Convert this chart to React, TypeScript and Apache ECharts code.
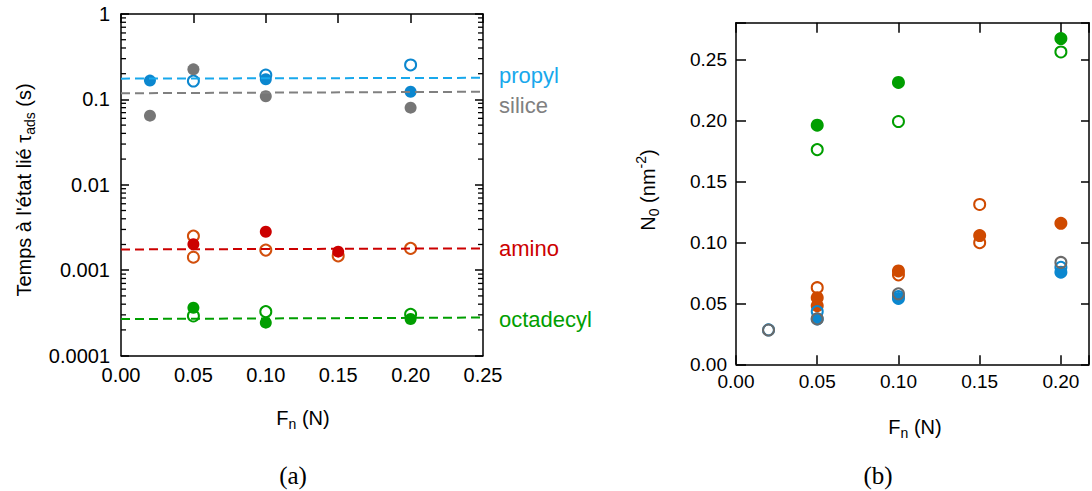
import React, { useEffect, useRef } from "react";
import * as echarts from "echarts";

// ---------- Panel (a): residence time (log scale) ----------
const propylFilled: [number, number][] = [[0.02, 0.166], [0.10, 0.172], [0.20, 0.123]];
const propylOpen: [number, number][] = [[0.05, 0.164], [0.10, 0.193], [0.20, 0.253]];
const siliceFilled: [number, number][] = [[0.02, 0.0645], [0.05, 0.225], [0.10, 0.109], [0.20, 0.080]];
const aminoFilled: [number, number][] = [[0.05, 0.00201], [0.10, 0.00282], [0.15, 0.00165]];
const aminoOpen: [number, number][] = [[0.05, 0.00251], [0.05, 0.00142], [0.10, 0.00172], [0.15, 0.00147], [0.20, 0.00180]];
const octaFilled: [number, number][] = [[0.05, 0.000364], [0.10, 0.000243], [0.20, 0.000268]];
const octaOpen: [number, number][] = [[0.05, 0.000291], [0.10, 0.000327], [0.20, 0.000304]];

const propylFit: [number, number][] = [[0, 0.175], [0.256, 0.179]];
const siliceFit: [number, number][] = [[0, 0.118], [0.255, 0.123]];
const aminoFit: [number, number][] = [[0, 0.00175], [0.249, 0.0018]];
const octaFit: [number, number][] = [[0, 0.000268], [0.249, 0.000279]];

const groupLabels = ["propyl", "silice", "amino", "octadecyl"];

const logDecadeLabels = ["0.0001", "0.001", "0.01", "0.1", "1"];
const minorMultipliers = [2, 3, 4, 5, 6, 7, 8, 9];
const minorDecades = [0.0001, 0.001, 0.01, 0.1];

// ---------- Panel (b): N0 ----------
const greenFilled: [number, number][] = [[0.05, 0.196], [0.10, 0.231], [0.20, 0.267]];
const greenOpen: [number, number][] = [[0.05, 0.176], [0.10, 0.199], [0.20, 0.256]];
const orangeFilled: [number, number][] = [[0.05, 0.0546], [0.05, 0.048], [0.10, 0.0765], [0.15, 0.1055], [0.20, 0.1156]];
const orangeOpen: [number, number][] = [[0.05, 0.0628], [0.10, 0.0733], [0.15, 0.131], [0.15, 0.0997]];
const blueFilledB: [number, number][] = [[0.05, 0.0372], [0.10, 0.054], [0.20, 0.0755]];
const blueOpenB: [number, number][] = [[0.02, 0.0282], [0.05, 0.0432], [0.10, 0.0555], [0.20, 0.0795]];
const grayOpenB: [number, number][] = [[0.02, 0.0281], [0.05, 0.0372], [0.10, 0.0578], [0.20, 0.0835]];

const C = {
  blue: "#0b87cf",
  blueLine: "#18a8ec",
  gray: "#767676",
  grayLine: "#808080",
  red: "#cc0000",
  orange: "#d24f0c",
  green: "#009e00",
  orangeB: "#cf4a00",
  grayB: "#6a6a6a",
};

const SANS = "'Liberation Sans', Arial, sans-serif";
const SERIF = "'Liberation Serif', 'DejaVu Serif', serif";

function filled(name: string, data: [number, number][], color: string, xi: number, yi: number, size = 13) {
  return {
    name, type: "scatter", data, xAxisIndex: xi, yAxisIndex: yi,
    symbol: "circle", symbolSize: size,
    itemStyle: { color, opacity: 1 },
  };
}
function open(name: string, data: [number, number][], color: string, xi: number, yi: number, size = 11) {
  return {
    name, type: "scatter", data, xAxisIndex: xi, yAxisIndex: yi,
    symbol: "circle", symbolSize: size,
    itemStyle: { color: "rgba(255,255,255,0)", borderColor: color, borderWidth: 2, opacity: 1 },
  };
}
function fit(name: string, data: [number, number][], color: string) {
  return {
    name, type: "line", data, xAxisIndex: 0, yAxisIndex: 0,
    symbol: "none", showSymbol: false, clip: false,
    lineStyle: { color, width: 2, type: [9, 5] },
  };
}

const is005 = (v: number) => Math.abs(v / 0.05 - Math.round(v / 0.05)) < 1e-6;

export default function App() {
  const ref = useRef<HTMLDivElement>(null);
  useEffect(() => {
    if (!ref.current) return;
    const chart = echarts.init(ref.current, undefined, { renderer: "svg" });

    const minorData: [number, number][] = [];
    minorDecades.forEach((d) => minorMultipliers.forEach((m) => minorData.push([0.125, m * d])));

    const axisLine = { show: true, onZero: false, lineStyle: { color: "#000", width: 1.5 } };
    const tick = (length: number) => ({ show: true, inside: true, length, lineStyle: { color: "#000", width: 1.5 } });
    const baseX = {
      type: "value", min: 0, interval: 0.05,
      axisLine, splitLine: { show: false },
    };
    const richTitle = {
      n: { fontSize: 20, fontFamily: SANS, fill: "#000", lineHeight: 24 },
      s: { fontSize: 14, fontFamily: SANS, fill: "#000", lineHeight: 14, padding: [12, 0, 0, 0] },
      p: { fontSize: 14, fontFamily: SANS, fill: "#000", lineHeight: 14, padding: [0, 0, 14, 0] },
    };

    const minorTickSeries = (xAt: number, dir: number) => ({
      type: "custom", xAxisIndex: 0, yAxisIndex: 0, data: minorData, silent: true, clip: false, z: 10,
      renderItem: (params: any, api: any) => {
        const p = api.coord([xAt, api.value(1)]);
        return {
          type: "line",
          shape: { x1: p[0], y1: p[1], x2: p[0] + dir * 5, y2: p[1] },
          style: { stroke: "#000", lineWidth: 1.3 },
        };
      },
    });

    const option: any = {
      animation: false,
      backgroundColor: "#fff",
      grid: [
        { left: 121, top: 14, width: 362, height: 341.6, containLabel: false },
        { left: 736, top: 22.7, width: 355, height: 341.6, containLabel: false },
      ],
      xAxis: [
        {
          ...baseX, gridIndex: 0, position: "bottom", max: 0.25,
          axisTick: { show: false },
          axisLabel: { fontSize: 20, color: "#000", fontFamily: SANS, margin: 9, formatter: (v: number) => (is005(v) ? v.toFixed(2) : "") },
        },
        {
          ...baseX, gridIndex: 0, position: "top", max: 0.25,
          axisTick: tick(9),
          axisLabel: { show: false },
        },
        {
          ...baseX, gridIndex: 1, position: "bottom", max: 0.2173,
          axisTick: tick(9),
          axisLabel: { fontSize: 19, color: "#000", fontFamily: SANS, margin: 8, formatter: (v: number) => (is005(v) ? v.toFixed(2) : "") },
        },
        {
          ...baseX, gridIndex: 1, position: "top", max: 0.2173,
          axisTick: tick(10),
          axisLabel: { show: false },
        },
      ],
      yAxis: [
        {
          type: "log", logBase: 10, min: 0.0001, max: 1, gridIndex: 0, position: "left",
          axisLine, splitLine: { show: false },
          axisTick: tick(8),
          axisLabel: {
            fontSize: 20, color: "#000", fontFamily: SANS, margin: 11,
            formatter: (v: number) => logDecadeLabels[Math.round(Math.log10(v)) + 4] ?? "",
          },
        },
        {
          type: "log", logBase: 10, min: 0.0001, max: 1, gridIndex: 0, position: "right",
          axisLine, splitLine: { show: false },
          axisTick: tick(8),
          axisLabel: { show: false },
        },
        {
          type: "value", min: 0, max: 0.28, interval: 0.05, gridIndex: 1, position: "left",
          axisLine, splitLine: { show: false },
          axisTick: tick(10),
          axisLabel: { fontSize: 19, color: "#000", fontFamily: SANS, margin: 9, formatter: (v: number) => (is005(v) ? v.toFixed(2) : "") },
        },
        {
          type: "value", min: 0, max: 0.28, interval: 0.05, gridIndex: 1, position: "right",
          axisLine, splitLine: { show: false },
          axisTick: tick(8),
          axisLabel: { show: false },
        },
      ],
      series: [
        minorTickSeries(0, 1),
        minorTickSeries(0.25, -1),
        fit("propylFit", propylFit, C.blueLine),
        fit("siliceFit", siliceFit, C.grayLine),
        fit("aminoFit", aminoFit, C.red),
        fit("octaFit", octaFit, C.green),
        open("propylOpen", propylOpen, C.blue, 0, 0),
        filled("propylFilled", propylFilled, C.blue, 0, 0, 12),
        filled("siliceFilled", siliceFilled, C.gray, 0, 0, 12),
        open("aminoOpen", aminoOpen, C.orange, 0, 0),
        filled("aminoFilled", aminoFilled, C.red, 0, 0, 12),
        open("octaOpen", octaOpen, C.green, 0, 0),
        filled("octaFilled", octaFilled, C.green, 0, 0, 12),

        filled("greenFilled", greenFilled, C.green, 2, 2),
        open("greenOpen", greenOpen, C.green, 2, 2),
        open("orangeOpen", orangeOpen, C.orangeB, 2, 2),
        filled("orangeFilled", orangeFilled, C.orangeB, 2, 2),
        open("blueOpenB", blueOpenB, C.blue, 2, 2),
        filled("blueFilledB", blueFilledB, C.blue, 2, 2),
        open("grayOpenB", grayOpenB, C.grayB, 2, 2),
      ],
      graphic: [
        { type: "text", x: 499, y: 75, style: { text: groupLabels[0], fill: C.blueLine, font: `22px ${SANS}`, verticalAlign: "middle" } },
        { type: "text", x: 499, y: 105, style: { text: groupLabels[1], fill: C.grayLine, font: `22px ${SANS}`, verticalAlign: "middle" } },
        { type: "text", x: 499, y: 248, style: { text: groupLabels[2], fill: C.red, font: `22px ${SANS}`, verticalAlign: "middle" } },
        { type: "text", x: 499, y: 319, style: { text: groupLabels[3], fill: C.green, font: `22px ${SANS}`, verticalAlign: "middle" } },
        {
          type: "text", x: 24, y: 190, rotation: Math.PI / 2,
          style: { text: "{n|Temps à l'état lié τ}{s|ads}{n| (s)}", align: "center", verticalAlign: "middle", fill: "#000", rich: richTitle },
        },
        {
          type: "text", x: 303, y: 418,
          style: { text: "{n|F}{s|n}{n| (N)}", align: "center", verticalAlign: "middle", fill: "#000", rich: richTitle },
        },
        {
          type: "text", x: 915, y: 427,
          style: { text: "{n|F}{s|n}{n| (N)}", align: "center", verticalAlign: "middle", fill: "#000", rich: richTitle },
        },
        {
          type: "text", x: 648, y: 190, rotation: Math.PI / 2,
          style: { text: "{n|N}{s|0}{n| (nm}{p|-2}{n|)}", align: "center", verticalAlign: "middle", fill: "#000", rich: richTitle },
        },
        { type: "text", x: 293, y: 475, style: { text: "(a)", fill: "#000", font: `25px ${SERIF}`, align: "center", verticalAlign: "middle" } },
        { type: "text", x: 878, y: 475, style: { text: "(b)", fill: "#000", font: `25px ${SERIF}`, align: "center", verticalAlign: "middle" } },
      ],
    };
    chart.setOption(option);
    return () => chart.dispose();
  }, []);
  return <div ref={ref} style={{ position: "fixed", left: 0, top: 0, width: 1092, height: 491 }} />;
}
